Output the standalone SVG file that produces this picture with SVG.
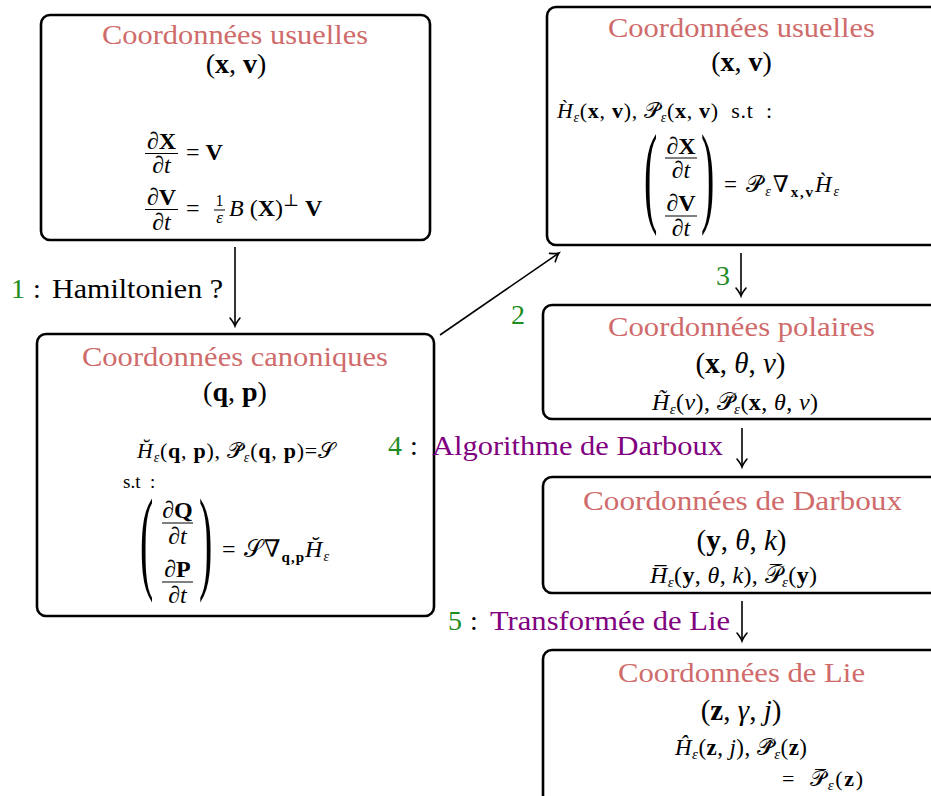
<svg xmlns="http://www.w3.org/2000/svg" width="931" height="796" viewBox="0 0 931 796">
<style>
.box{fill:#fff;stroke:#000;stroke-width:2.6}
.title{font-family:"Liberation Serif","DejaVu Serif",serif;font-size:28px;fill:#cf6b6b;text-anchor:middle}
.m{font-family:"Liberation Serif","DejaVu Serif","DejaVu Sans",serif;fill:#000}
.c{text-anchor:middle}
.i{font-style:italic}
.b{font-weight:bold}
.bar{stroke:#000;stroke-width:1}
.lbl{font-family:"Liberation Serif","DejaVu Serif",serif;font-size:28px;fill:#000}
.g{fill:#1f8c1f}
.p{fill:#800080}
.par{font-family:"Liberation Serif","DejaVu Serif",serif;font-size:40px;fill:#000}
.conn line{stroke:#000;stroke-width:1.6;fill:none}
</style>
<defs>
<marker id="ah" markerUnits="userSpaceOnUse" markerWidth="16" markerHeight="16" refX="0" refY="0" viewBox="-10 -8 12 16" orient="auto">
<path d="M-8,-5 Q-3,-1 0,0 Q-3,1 -8,5" fill="none" stroke="#000" stroke-width="1.6" stroke-linecap="round"/>
</marker>
</defs>

<g id="n1">
<rect class="box" x="41" y="15" width="389" height="225" rx="9"/>
<text class="title" x="235" y="44" textLength="266" lengthAdjust="spacingAndGlyphs">Coordonnées usuelles</text>
<text class="m c" x="236" y="73" font-size="28">(<tspan class="b">x</tspan>, <tspan class="b">v</tspan>)</text>
<text class="m c" x="161.5" y="149" font-size="24">∂<tspan class="b">X</tspan></text>
<line class="bar" x1="145" y1="153.5" x2="178" y2="153.5"/>
<text class="m c" x="161.5" y="173" font-size="24">∂<tspan class="i">t</tspan></text>
<text class="m" x="186" y="160" font-size="24">= <tspan class="b">V</tspan></text>
<text class="m c" x="161.5" y="205" font-size="24">∂<tspan class="b">V</tspan></text>
<line class="bar" x1="145" y1="209.5" x2="178" y2="209.5"/>
<text class="m c" x="161.5" y="230" font-size="24">∂<tspan class="i">t</tspan></text>
<text class="m" x="186" y="216" font-size="24">=</text>
<text class="m c" x="219.5" y="206" font-size="16">1</text>
<line class="bar" x1="214" y1="210" x2="225" y2="210"/>
<text class="m c i" x="219.5" y="223" font-size="17">ε</text>
<text class="m" x="229" y="216" font-size="24"><tspan class="i">B</tspan> (<tspan class="b">X</tspan>)<tspan font-size="17" dy="-10">⊥</tspan><tspan dy="10"> </tspan><tspan class="b">V</tspan></text>
</g>

<g id="n2">
<rect class="box" x="547" y="7" width="400" height="238" rx="9"/>
<text class="title" x="741.5" y="37" textLength="267" lengthAdjust="spacingAndGlyphs">Coordonnées usuelles</text>
<text class="m c" x="741.5" y="71" font-size="28">(<tspan class="b">x</tspan>, <tspan class="b">v</tspan>)</text>
<text class="m" x="557" y="118" font-size="22" textLength="215" lengthAdjust="spacing"><tspan class="i">H̀</tspan><tspan class="i" font-size="14" dy="4">ε</tspan><tspan dy="-4">(</tspan><tspan class="b">x</tspan>, <tspan class="b">v</tspan>), 𝒫̀<tspan class="i" font-size="14" dy="4">ε</tspan><tspan dy="-4">(</tspan><tspan class="b">x</tspan>, <tspan class="b">v</tspan>)&#160; s.t&#160; :</text>
<text class="par" transform="translate(644,212) scale(1,2.8)">(</text>
<text class="par" transform="translate(701,212) scale(1,2.8)">)</text>
<text class="m c" x="681" y="154" font-size="24">∂<tspan class="b">X</tspan></text>
<line class="bar" x1="665" y1="158" x2="697" y2="158"/>
<text class="m c" x="681" y="178" font-size="24">∂<tspan class="i">t</tspan></text>
<text class="m c" x="681" y="211" font-size="24">∂<tspan class="b">V</tspan></text>
<line class="bar" x1="665" y1="216" x2="697" y2="216"/>
<text class="m c" x="681" y="236" font-size="24">∂<tspan class="i">t</tspan></text>
<text class="m" x="724" y="192" font-size="23" textLength="115" lengthAdjust="spacing">= 𝒫̀<tspan class="i" font-size="14" dy="4">ε</tspan><tspan dy="-4">∇</tspan><tspan class="b" font-size="15" dy="5">x,v</tspan><tspan class="i" dy="-5">H̀</tspan><tspan class="i" font-size="14" dy="4">ε</tspan></text>
</g>

<g id="n3">
<rect class="box" x="37" y="334" width="397" height="282" rx="9"/>
<text class="title" x="235" y="366" textLength="306" lengthAdjust="spacingAndGlyphs">Coordonnées canoniques</text>
<text class="m c" x="235" y="401" font-size="28">(<tspan class="b">q</tspan>, <tspan class="b">p</tspan>)</text>
<text class="m" x="137" y="458" font-size="22" textLength="198" lengthAdjust="spacing"><tspan class="i">H̆</tspan><tspan class="i" font-size="14" dy="4">ε</tspan><tspan dy="-4">(</tspan><tspan class="b">q</tspan>, <tspan class="b">p</tspan>), 𝒫̆<tspan class="i" font-size="14" dy="4">ε</tspan><tspan dy="-4">(</tspan><tspan class="b">q</tspan>, <tspan class="b">p</tspan>)=𝒮</text>
<text class="m" x="123" y="488" font-size="19">s.t&#160; :</text>
<text class="par" transform="translate(140,578) scale(1,2.85)">(</text>
<text class="par" transform="translate(199,578) scale(1,2.85)">)</text>
<text class="m c" x="177.5" y="518" font-size="24">∂<tspan class="b">Q</tspan></text>
<line class="bar" x1="162" y1="523" x2="193" y2="523"/>
<text class="m c" x="177.5" y="544" font-size="24">∂<tspan class="i">t</tspan></text>
<text class="m c" x="177.5" y="577" font-size="24">∂<tspan class="b">P</tspan></text>
<line class="bar" x1="162" y1="582" x2="193" y2="582"/>
<text class="m c" x="177.5" y="603" font-size="24">∂<tspan class="i">t</tspan></text>
<text class="m" x="222" y="557" font-size="24" textLength="107" lengthAdjust="spacing">= 𝒮∇<tspan class="b" font-size="15" dy="5">q,p</tspan><tspan class="i" dy="-5">H̆</tspan><tspan class="i" font-size="14" dy="4">ε</tspan></text>
</g>

<g id="n4">
<rect class="box" x="543" y="305" width="400" height="114" rx="9"/>
<text class="title" x="741.5" y="336" textLength="267" lengthAdjust="spacingAndGlyphs">Coordonnées polaires</text>
<text class="m c" x="740.5" y="373" font-size="29">(<tspan class="b">x</tspan>, <tspan class="i">θ</tspan>, <tspan class="i">v</tspan>)</text>
<text class="m" x="652" y="410" font-size="24" textLength="166" lengthAdjust="spacing"><tspan class="i">H̃</tspan><tspan class="i" font-size="15" dy="4">ε</tspan><tspan dy="-4">(</tspan><tspan class="i">v</tspan>), 𝒫̃<tspan class="i" font-size="15" dy="4">ε</tspan><tspan dy="-4">(</tspan><tspan class="b">x</tspan>, <tspan class="i">θ</tspan>, <tspan class="i">v</tspan>)</text>
</g>

<g id="n5">
<rect class="box" x="543" y="477" width="400" height="116" rx="9"/>
<text class="title" x="742.5" y="510" textLength="319" lengthAdjust="spacingAndGlyphs">Coordonnées de Darboux</text>
<text class="m c" x="741.5" y="550" font-size="29">(<tspan class="b">y</tspan>, <tspan class="i">θ</tspan>, <tspan class="i">k</tspan>)</text>
<text class="m" x="650" y="583" font-size="24" textLength="167" lengthAdjust="spacing"><tspan class="i">H̅</tspan><tspan class="i" font-size="15" dy="4">ε</tspan><tspan dy="-4">(</tspan><tspan class="b">y</tspan>, <tspan class="i">θ</tspan>, <tspan class="i">k</tspan>), 𝒫̅<tspan class="i" font-size="15" dy="4">ε</tspan><tspan dy="-4">(</tspan><tspan class="b">y</tspan>)</text>
</g>

<g id="n6">
<rect class="box" x="543" y="650" width="400" height="160" rx="9"/>
<text class="title" x="741.5" y="682" textLength="247" lengthAdjust="spacingAndGlyphs">Coordonnées de Lie</text>
<text class="m c" x="741" y="720" font-size="29">(<tspan class="b">z</tspan>, <tspan class="i">γ</tspan>, <tspan class="i">j</tspan>)</text>
<text class="m" x="675" y="755" font-size="23" textLength="132" lengthAdjust="spacing"><tspan class="i">Ĥ</tspan><tspan class="i" font-size="15" dy="4">ε</tspan><tspan dy="-4">(</tspan><tspan class="b">z</tspan>, <tspan class="i">j</tspan>), 𝒫̂<tspan class="i" font-size="15" dy="4">ε</tspan><tspan dy="-4">(</tspan><tspan class="b">z</tspan>)</text>
<text class="m" x="782" y="786" font-size="22" textLength="81" lengthAdjust="spacing">=&#160; 𝒫̅<tspan class="i" font-size="15" dy="4">ε</tspan><tspan dy="-4">(</tspan><tspan class="b">z</tspan>)</text>
</g>

<g id="connectors" class="conn">
<line x1="235" y1="247" x2="235" y2="326" marker-end="url(#ah)"/>
<line x1="440" y1="335" x2="559" y2="253" marker-end="url(#ah)"/>
<line x1="741" y1="253" x2="741" y2="296" marker-end="url(#ah)"/>
<line x1="742" y1="428" x2="742" y2="467" marker-end="url(#ah)"/>
<line x1="742" y1="601" x2="742" y2="641" marker-end="url(#ah)"/>
</g>

<g id="labels">
<text class="lbl g" x="11" y="298">1</text>
<text class="lbl" x="33" y="298">:</text>
<text class="lbl" x="52" y="298" textLength="171" lengthAdjust="spacingAndGlyphs">Hamiltonien ?</text>
<text class="lbl g" x="511" y="324">2</text>
<text class="lbl g" x="716" y="285">3</text>
<text class="lbl g" x="388" y="455">4</text>
<text class="lbl" x="410" y="455">:</text>
<text class="lbl p" x="432" y="455" textLength="291" lengthAdjust="spacingAndGlyphs">Algorithme de Darboux</text>
<text class="lbl g" x="448" y="630">5</text>
<text class="lbl" x="470" y="630">:</text>
<text class="lbl p" x="490" y="630" textLength="240" lengthAdjust="spacingAndGlyphs">Transformée de Lie</text>
</g>
</svg>
